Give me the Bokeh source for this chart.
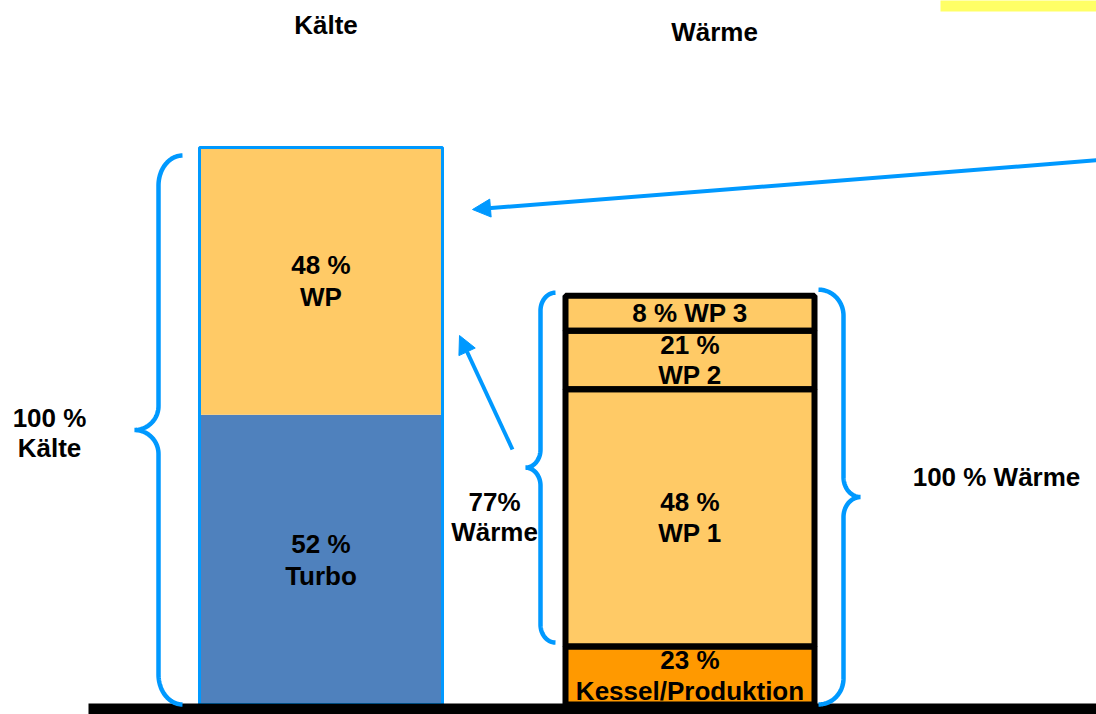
import numpy as np
from bokeh.plotting import figure
from bokeh.models import ColumnDataSource, Range1d, Arrow, NormalHead
from bokeh.core.properties import value
from bokeh.embed import file_html
from bokeh.resources import INLINE

# ---------------- data ----------------
kaelte_names = ["Turbo", "WP"]
kaelte_values = [52, 48]                      # % of Kälte
kaelte_labels = ["52 %\nTurbo", "48 %\nWP"]

waerme_names = ["Kessel/Produktion", "WP 1", "WP 2", "WP 3"]
waerme_values = [23, 48, 21, 8]               # % of Wärme
waerme_labels = ["23 %\nKessel/Produktion", "48 %\nWP 1", "21 %\nWP 2", "8 % WP 3"]
# schematic segment heights as drawn in the original (in Kälte-% units)
waerme_drawn = [10.4, 46.2, 10.5, 6.3]

waerme_wp_share = "77%\nWärme"
kaelte_total = "100 %\nKälte"
waerme_total = "100 % Wärme"
titles = ["Kälte", "Wärme"]

# ---------------- styling / layout ----------------
W, H = 1096, 714
S = 5.57          # px per Kälte-%
BASE = 704        # pixel row of y = 0
FONT = value("Liberation Sans")
FS = "26px"
BLUE = "#0099FF"
C_TURBO = "#4F81BD"
C_WP = "#FFCA66"
C_KESSEL = "#FF9900"


def Y(px):
    return (BASE - px) / S


p = figure(width=W, height=H, x_range=Range1d(0, W), y_range=Range1d(Y(H), Y(0)),
           toolbar_location=None, output_backend="svg", min_border=0,
           x_axis_type=None, y_axis_type=None)
p.grid.visible = False
p.outline_line_color = None
p.background_fill_color = "white"

# yellow box top right
p.quad(left=[940], right=[W + 5], bottom=[Y(11)], top=[Y(-5)], fill_color="#FFFF66", line_color=None)

# ---- Kälte bar ----
kx0, kx1 = 199, 442
k_top = np.cumsum(kaelte_values)
k_bot = k_top - np.array(kaelte_values)
ksrc = ColumnDataSource(dict(bottom=k_bot, top=k_top, color=[C_TURBO, C_WP],
                             mid=(k_bot + k_top) / 2, label=kaelte_labels,
                             x=[(kx0 + kx1) / 2] * 2))
p.quad(left=kx0, right=kx1, bottom="bottom", top="top", fill_color="color", line_color=None, source=ksrc)
p.quad(left=[kx0], right=[kx1], bottom=[k_bot[0]], top=[k_top[-1]], fill_alpha=0,
       line_color=BLUE, line_width=3)
p.text(x="x", y="mid", text="label", source=ksrc, text_font=FONT, text_font_size=FS,
       text_font_style="bold", text_align="center", text_baseline="middle",
       text_line_height=1.07, text_color="black")

# ---- Wärme bar ----
wx0, wx1 = 565, 814
w_top = np.cumsum(waerme_drawn)
w_bot = w_top - np.array(waerme_drawn)
wsrc = ColumnDataSource(dict(bottom=w_bot, top=w_top,
                             color=[C_KESSEL, C_WP, C_WP, C_WP],
                             mid=(w_bot + w_top) / 2, label=waerme_labels,
                             x=[(wx0 + wx1) / 2] * 4))
p.quad(left=wx0, right=wx1, bottom="bottom", top="top", fill_color="color", line_color=None, source=wsrc)
p.text(x="x", y="mid", text="label", source=wsrc, text_font=FONT, text_font_size=FS,
       text_font_style="bold", text_align="center", text_baseline="middle",
       text_line_height=1.03, text_color="black")
p.quad(left=wx0, right=wx1, bottom="bottom", top="top", fill_alpha=0, line_color="black",
       line_width=6, source=wsrc)

# baseline
p.quad(left=[88], right=[W + 5], bottom=[Y(H + 5)], top=[Y(703)], fill_color="black", line_color=None)


# ---- braces ----
def brace(x_tip, x_line, x_hook, y_top, y_bot, ry1, ry2, n=30):
    d = np.sign(x_hook - x_line)
    rx1 = abs(x_hook - x_line)
    rx2 = abs(x_line - x_tip)
    y_mid = (y_top + y_bot) / 2
    t = np.linspace(0, np.pi / 2, n)
    xs = list(x_hook - d * rx1 * np.sin(t))
    ys = list(y_top + ry1 - ry1 * np.cos(t))
    xs += list(x_tip + d * rx2 * np.cos(t))
    ys += list(y_mid - ry2 + ry2 * np.sin(t))
    xs = np.array(xs)
    ys = np.array(ys)
    full_x = np.concatenate([xs, xs[::-1]])
    full_y = np.concatenate([ys, (2 * y_mid - ys)[::-1]])
    return full_x, Y(full_y)


bx, by = brace(134, 158, 182, BASE - S * k_top[-1] + 8, BASE, 30, 24)
p.line(bx, by, line_color=BLUE, line_width=4.5)

hp_top_px = BASE - S * w_top[-1]
bx, by = brace(525, 540, 555, hp_top_px - 3, BASE - S * w_bot[1] - 4, 18, 18)
p.line(bx, by, line_color=BLUE, line_width=4.5)

bx, by = brace(860, 843, 818, hp_top_px - 6, BASE, 26, 20)
p.line(bx, by, line_color=BLUE, line_width=4.5)

# ---- arrows ----
p.add_layout(Arrow(end=NormalHead(size=18, fill_color=BLUE, line_color=BLUE),
                   x_start=1100, y_start=Y(159.5), x_end=472, y_end=Y(209),
                   line_color=BLUE, line_width=4))
p.add_layout(Arrow(end=NormalHead(size=18, fill_color=BLUE, line_color=BLUE),
                   x_start=512, y_start=Y(449), x_end=459, y_end=Y(335),
                   line_color=BLUE, line_width=4))

# ---- free texts ----
tsrc = ColumnDataSource(dict(
    x=[325.5, 714, 49, 494, 996],
    y=[Y(24), Y(31), Y(432), Y(516), Y(476.5)],
    text=[titles[0], titles[1], kaelte_total, waerme_wp_share, waerme_total]))
p.text(x="x", y="y", text="text", source=tsrc, text_font=FONT, text_font_size=FS,
       text_font_style="bold", text_align="center", text_baseline="middle",
       text_line_height=1.0, text_color="black")

open("out.html", "w").write(file_html(p, INLINE))
